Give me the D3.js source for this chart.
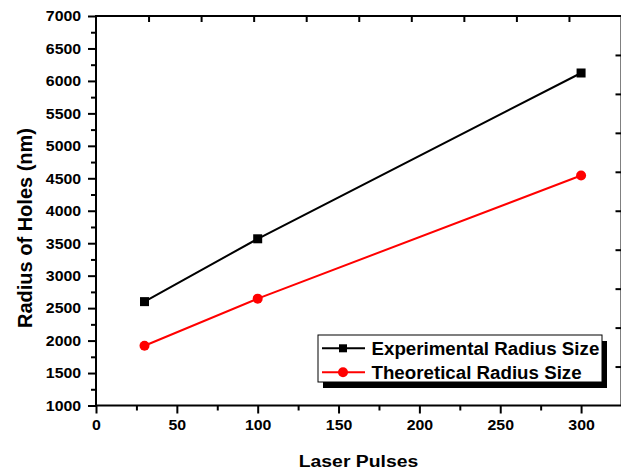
<!DOCTYPE html>
<html>
<head>
<meta charset="utf-8">
<script src="https://cdn.jsdelivr.net/npm/d3@7"></script>
<style>
  body { margin: 0; background: #fff; }
  text { font-family: "Liberation Sans", Arial, sans-serif; }
</style>
</head>
<body>
<div id="wrapper"></div>
<script>
// data
const pulses = [30, 100, 300];
const experimental = [2600, 3568, 6122];
const theoretical = [1920, 2646, 4543];
const seriesNames = ["Experimental Radius Size", "Theoretical Radius Size"];
const seriesColors = ["#000000", "#ff0000"];
const xTicks = [0, 50, 100, 150, 200, 250, 300];
const yTicks = [1000, 1500, 2000, 2500, 3000, 3500, 4000, 4500, 5000, 5500, 6000, 6500, 7000];

function drawChart() {
  const dimensions = {
    width: 621,
    height: 472,
    margin: { top: 16, right: -0.5, bottom: 66.5, left: 96 },
  };
  dimensions.boundedWidth = dimensions.width - dimensions.margin.left - dimensions.margin.right;
  dimensions.boundedHeight = dimensions.height - dimensions.margin.top - dimensions.margin.bottom;

  const svg = d3.select("#wrapper")
    .append("svg")
    .attr("width", dimensions.width)
    .attr("height", dimensions.height)
    .style("display", "block");

  const bounds = svg.append("g")
    .attr("transform", `translate(${dimensions.margin.left},${dimensions.margin.top})`);

  // scales
  const xScale = d3.scaleLinear().domain([0, 325]).range([0, dimensions.boundedWidth]);
  const yScale = d3.scaleLinear().domain([1000, 7000]).range([dimensions.boundedHeight, 0]);
  // twin scales for the top/right tick marks (no labels)
  const topScale = d3.scaleLinear().domain([0, 10]).range([0, dimensions.boundedWidth]);
  const rightScale = d3.scaleLinear().domain([0, 10]).range([dimensions.boundedHeight, 0]);

  // minor ticks
  bounds.append("g")
    .call(d3.axisLeft(yScale).tickValues(d3.range(1250, 7000, 500)).tickSize(5).tickFormat(""))
    .call(g => g.select(".domain").remove())
    .selectAll("line").attr("stroke-width", 2);
  bounds.append("g")
    .attr("transform", `translate(0,${dimensions.boundedHeight})`)
    .call(d3.axisBottom(xScale).tickValues(d3.range(25, 326, 50)).tickSize(5).tickFormat(""))
    .call(g => g.select(".domain").remove())
    .selectAll("line").attr("stroke-width", 2);

  // top & right inner ticks
  bounds.append("g")
    .call(d3.axisBottom(topScale).tickValues(d3.range(1, 10)).tickSize(6).tickFormat(""))
    .call(g => g.select(".domain").remove())
    .selectAll("line").attr("stroke-width", 2);
  bounds.append("g")
    .attr("transform", `translate(${dimensions.boundedWidth},0)`)
    .call(d3.axisLeft(rightScale).tickValues(d3.range(1, 10)).tickSize(6).tickFormat(""))
    .call(g => g.select(".domain").remove())
    .selectAll("line").attr("stroke-width", 2);

  // main axes
  const yAxis = bounds.append("g")
    .call(d3.axisLeft(yScale).tickValues(yTicks).tickFormat(d3.format("d"))
      .tickSize(8).tickSizeOuter(0).tickPadding(6));
  const xAxis = bounds.append("g")
    .attr("transform", `translate(0,${dimensions.boundedHeight})`)
    .call(d3.axisBottom(xScale).tickValues(xTicks).tickFormat(d3.format("d"))
      .tickSize(8).tickSizeOuter(0).tickPadding(6));

  [xAxis, yAxis].forEach(ax => {
    ax.select(".domain").remove();
    ax.selectAll("line").attr("stroke-width", 2);
    ax.selectAll("text")
      .attr("font-size", 15)
      .attr("font-weight", "bold")
      .attr("fill", "#000")
      .attr("transform", "scale(1.06,1)");
  });

  // frame
  bounds.append("rect")
    .attr("width", dimensions.boundedWidth)
    .attr("height", dimensions.boundedHeight)
    .attr("fill", "none")
    .attr("stroke", "#000")
    .attr("stroke-width", 2);

  // lines + markers
  const series = [experimental, theoretical];
  const lineGenerator = d3.line()
    .x((d, i) => xScale(pulses[i]))
    .y(d => yScale(d));

  series.forEach((values, s) => {
    bounds.append("path")
      .attr("d", lineGenerator(values))
      .attr("fill", "none")
      .attr("stroke", seriesColors[s])
      .attr("stroke-width", 2);
  });

  bounds.selectAll(".sq")
    .data(experimental)
    .join("rect")
    .attr("x", (d, i) => xScale(pulses[i]) - 4.5)
    .attr("y", d => yScale(d) - 4.5)
    .attr("width", 9)
    .attr("height", 9)
    .attr("fill", seriesColors[0]);

  bounds.selectAll(".dot")
    .data(theoretical)
    .join("circle")
    .attr("cx", (d, i) => xScale(pulses[i]))
    .attr("cy", d => yScale(d))
    .attr("r", 5)
    .attr("fill", seriesColors[1]);

  // legend
  const legend = svg.append("g").attr("transform", "translate(318,335)");
  legend.append("rect")
    .attr("x", 5).attr("y", 6)
    .attr("width", 284).attr("height", 47)
    .attr("fill", "#000");
  legend.append("rect")
    .attr("width", 284).attr("height", 47)
    .attr("fill", "#fff")
    .attr("stroke", "#000")
    .attr("stroke-width", 1);

  seriesNames.forEach((name, i) => {
    const row = legend.append("g").attr("transform", `translate(0,${13.3 + i * 24})`);
    row.append("line")
      .attr("x1", 4).attr("x2", 47)
      .attr("stroke", seriesColors[i])
      .attr("stroke-width", 2);
    if (i === 0) {
      row.append("rect").attr("x", 21).attr("y", -4).attr("width", 8).attr("height", 8).attr("fill", seriesColors[i]);
    } else {
      row.append("circle").attr("cx", 25).attr("r", 5).attr("fill", seriesColors[i]);
    }
    row.append("text")
      .attr("transform", "translate(53.5,6.5) scale(1.04,1)")
      .attr("font-size", 18)
      .attr("font-weight", "bold")
      .text(name);
  });

  // axis titles
  svg.append("text")
    .attr("transform", `translate(358.5,466.5) scale(1.14,1)`)
    .attr("text-anchor", "middle")
    .attr("font-size", 17)
    .attr("font-weight", "bold")
    .text("Laser Pulses");

  svg.append("text")
    .attr("transform", "translate(31.5,228) rotate(-90)")
    .attr("text-anchor", "middle")
    .attr("font-size", 20)
    .attr("font-weight", "bold")
    .text("Radius of Holes (nm)");
}

drawChart();
</script>
</body>
</html>
